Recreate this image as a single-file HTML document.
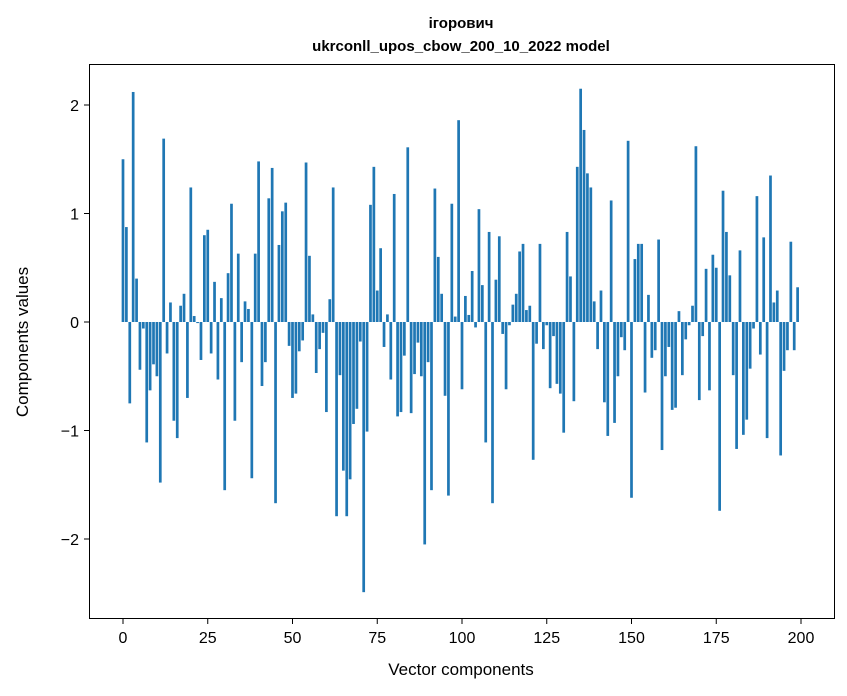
<!DOCTYPE html>
<html><head><meta charset="utf-8">
<style>
body{margin:0;background:#fff;}
svg{display:block;font-family:"Liberation Sans","DejaVu Sans",sans-serif;}
</style></head>
<body>
<svg id="chart" width="847" height="696" viewBox="0 0 847 696" xmlns="http://www.w3.org/2000/svg">
<rect x="0" y="0" width="847" height="696" fill="#fff"/>
<text x="461" y="28" text-anchor="middle" font-size="15" font-weight="bold">ігорович</text>
<text x="461" y="51" text-anchor="middle" font-size="15" font-weight="bold">ukrconll_upos_cbow_200_10_2022 model</text>
<g id="bars"></g>
<g id="xticks"></g>
<g id="yticks"></g>
<rect x="89.5" y="64.5" width="745" height="554" fill="none" stroke="#000" stroke-width="1"/>
<text x="461" y="675" text-anchor="middle" font-size="17">Vector components</text>
<text transform="translate(28,342) rotate(-90)" text-anchor="middle" font-size="17">Components values</text>
</svg>
<script>
const values = [1.50,0.875,-0.75,2.12,0.40,-0.44,-0.06,-1.11,-0.63,-0.39,
-0.50,-1.48,1.69,-0.29,0.18,-0.91,-1.07,0.15,0.26,-0.70,
1.24,0.055,-0.01,-0.35,0.80,0.85,-0.29,0.37,-0.53,0.22,
-1.55,0.45,1.09,-0.91,0.63,-0.37,0.19,0.12,-1.44,0.63,
1.48,-0.59,-0.37,1.14,1.42,-1.67,0.71,1.02,1.10,-0.22,
-0.70,-0.66,-0.27,-0.17,1.47,0.61,0.07,-0.47,-0.25,-0.10,
-0.83,0.21,1.24,-1.79,-0.49,-1.37,-1.79,-1.45,-0.94,-0.80,
-0.18,-2.49,-1.01,1.08,1.43,0.29,0.68,-0.23,0.07,-0.53,
1.18,-0.87,-0.83,-0.31,1.61,-0.84,-0.48,-0.19,-0.50,-2.05,
-0.37,-1.55,1.23,0.60,0.26,-0.68,-1.60,1.09,0.05,1.86,
-0.62,0.24,0.065,0.47,-0.05,1.04,0.34,-1.11,0.83,-1.67,
0.39,0.79,-0.11,-0.62,-0.03,0.16,0.26,0.65,0.72,0.11,
0.15,-1.27,-0.20,0.72,-0.25,-0.03,-0.61,-0.13,-0.57,-0.66,
-1.02,0.83,0.42,-0.73,1.43,2.15,1.77,1.37,1.24,0.19,
-0.25,0.29,-0.74,-1.05,1.12,-0.93,-0.50,-0.14,-0.26,1.67,
-1.62,0.58,0.72,0.72,-0.65,0.25,-0.33,-0.26,0.76,-1.18,
-0.50,-0.23,-0.81,-0.79,0.10,-0.49,-0.16,-0.03,0.15,1.62,
-0.72,-0.13,0.49,-0.63,0.62,0.50,-1.74,1.21,0.83,0.43,
-0.49,-1.17,0.66,-1.04,-0.90,-0.43,-0.06,1.16,-0.30,0.78,
-1.07,1.35,0.18,0.29,-1.23,-0.45,-0.26,0.74,-0.26,0.32];
const xTicks = [0,25,50,75,100,125,150,175,200];
const yTicks = [-2,-1,0,1,2];
const yTickLabels = ["\u22122","\u22121","0","1","2"];

const NS = "http://www.w3.org/2000/svg";
const xScale = v => 123 + (v) * 3.39;
const yScale = v => 322 - v * 108.5;
const barW = 0.8 * 3.39;

const gb = document.getElementById('bars');
values.forEach((v, i) => {
  const r = document.createElementNS(NS, 'rect');
  const y0 = yScale(0), y1 = yScale(v);
  r.setAttribute('x', xScale(i) - barW / 2);
  r.setAttribute('y', Math.min(y0, y1));
  r.setAttribute('width', barW);
  r.setAttribute('height', Math.abs(y1 - y0));
  r.setAttribute('fill', '#1f77b4');
  
  
  gb.appendChild(r);
});

const gx = document.getElementById('xticks');
xTicks.forEach(t => {
  const x = xScale(t);
  const l = document.createElementNS(NS, 'line');
  l.setAttribute('x1', x); l.setAttribute('x2', x);
  l.setAttribute('y1', 618.5); l.setAttribute('y2', 624);
  l.setAttribute('stroke', '#000');
  
  
  gx.appendChild(l);
  const tx = document.createElementNS(NS, 'text');
  tx.setAttribute('x', x); tx.setAttribute('y', 643);
  tx.setAttribute('text-anchor', 'middle');
  tx.setAttribute('font-size', '16');
  tx.textContent = t;
  
  
  gx.appendChild(tx);
});

const gy = document.getElementById('yticks');
yTicks.forEach((t, k) => {
  const y = yScale(t);
  const l = document.createElementNS(NS, 'line');
  l.setAttribute('x1', 84); l.setAttribute('x2', 89.5);
  l.setAttribute('y1', y); l.setAttribute('y2', y);
  l.setAttribute('stroke', '#000');
  
  
  gy.appendChild(l);
  const tx = document.createElementNS(NS, 'text');
  tx.setAttribute('x', 79); tx.setAttribute('y', y + 6);
  tx.setAttribute('text-anchor', 'end');
  tx.setAttribute('font-size', '16');
  tx.textContent = yTickLabels[k];
  
  
  gy.appendChild(tx);
});
</script>
</body></html>
